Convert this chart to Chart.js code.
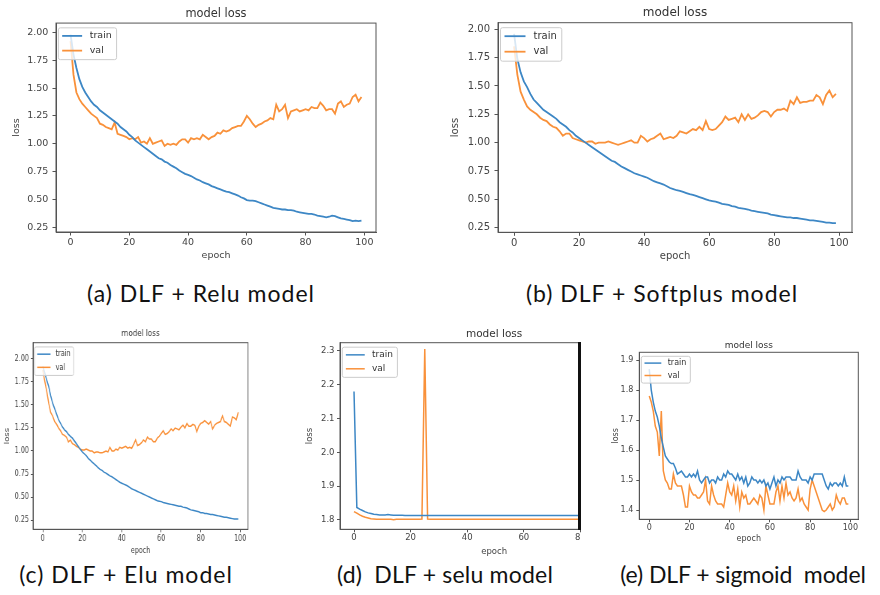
<!DOCTYPE html>
<html>
<head>
<meta charset="utf-8">
<script src="https://cdn.jsdelivr.net/npm/chart.js@4.4.1/dist/chart.umd.min.js"></script>
<style>
  body { margin: 0; background: #fff; width: 880px; height: 595px; position: relative; overflow: hidden; }
  .abs { position: absolute; }
  .cap { position: absolute; width: 400px; text-align: center; white-space: pre; font-family: Lato, "Open Sans", sans-serif; font-size: 23px; letter-spacing: 1px; line-height: 30px; color: #111; }
</style>
</head>
<body>
<canvas id="relu" class="abs" width="388" height="265" style="left:0;top:0"></canvas>
<canvas id="softplus" class="abs" width="424" height="266" style="left:440px;top:0"></canvas>
<div class="abs" style="left:0;top:325px;width:345px;height:233px;transform:scaleX(0.75);transform-origin:0 0">
  <canvas id="elu" width="345" height="233"></canvas>
</div>
<div class="abs" style="left:300px;top:325px;width:281px;height:233px;overflow:hidden">
  <canvas id="selu" width="360" height="233"></canvas>
</div>
<div class="abs" style="left:578px;top:342px;width:2.5px;height:188px;background:#111"></div>
<canvas id="sigmoid" class="abs" width="276" height="223" style="left:595px;top:325px"></canvas>

<div class="cap" style="left:1px;top:278px">(a) DLF + Relu model</div>
<div class="cap" style="left:462px;top:278px">(b) DLF + Softplus model</div>
<div class="cap" style="left:-74px;top:559px">(c) DLF + Elu model</div>
<div class="cap" style="left:245px;top:559px;letter-spacing:0.2px">(d)  DLF + selu model</div>
<div class="cap" style="left:543px;top:559px;letter-spacing:-0.1px">(e) DLF + sigmoid  model</div>

<script>
const epochs = [
  0, 1, 2, 3, 4, 5, 6, 7, 8, 9, 10, 11, 12, 13, 14, 15, 16, 17, 18, 19,
  20, 21, 22, 23, 24, 25, 26, 27, 28, 29, 30, 31, 32, 33, 34, 35, 36, 37, 38, 39,
  40, 41, 42, 43, 44, 45, 46, 47, 48, 49, 50, 51, 52, 53, 54, 55, 56, 57, 58, 59,
  60, 61, 62, 63, 64, 65, 66, 67, 68, 69, 70, 71, 72, 73, 74, 75, 76, 77, 78, 79,
  80, 81, 82, 83, 84, 85, 86, 87, 88, 89, 90, 91, 92, 93, 94, 95, 96, 97, 98, 99
];
const epochTicks = [0, 20, 40, 60, 80, 100];
const lossTicks = [0.25, 0.5, 0.75, 1.0, 1.25, 1.5, 1.75, 2.0];
const seluTicks = [1.8, 1.9, 2.0, 2.1, 2.2, 2.3];
const sigmoidTicks = [1.4, 1.5, 1.6, 1.7, 1.8, 1.9];

// (a) relu
const reluTrain = [
  1.98, 1.80, 1.68, 1.58, 1.51, 1.46, 1.42, 1.38, 1.35, 1.33,
  1.30, 1.28, 1.26, 1.24, 1.22, 1.20, 1.18, 1.15, 1.13, 1.11,
  1.08, 1.06, 1.03, 1.01, 0.99, 0.97, 0.95, 0.93, 0.91, 0.89,
  0.87, 0.86, 0.84, 0.83, 0.81, 0.795, 0.78, 0.76, 0.745, 0.73,
  0.72, 0.71, 0.695, 0.68, 0.67, 0.655, 0.645, 0.635, 0.62, 0.61,
  0.60, 0.59, 0.58, 0.57, 0.565, 0.555, 0.545, 0.535, 0.52, 0.51,
  0.495, 0.49, 0.49, 0.485, 0.475, 0.465, 0.455, 0.445, 0.435, 0.425,
  0.42, 0.415, 0.41, 0.41, 0.405, 0.405, 0.40, 0.39, 0.385, 0.38,
  0.375, 0.37, 0.37, 0.365, 0.355, 0.35, 0.345, 0.34, 0.345, 0.355,
  0.35, 0.34, 0.33, 0.325, 0.32, 0.315, 0.305, 0.31, 0.305, 0.31
];
const reluVal = [
  1.92, 1.62, 1.46, 1.40, 1.36, 1.33, 1.30, 1.27, 1.25, 1.23,
  1.18, 1.17, 1.15, 1.14, 1.13, 1.19, 1.09, 1.08, 1.07, 1.06,
  1.04, 1.05, 1.04, 1.06, 1.01, 1.02, 1.00, 1.05, 1.00, 1.01,
  1.02, 1.03, 0.98, 1.00, 0.99, 1.00, 0.99, 1.02, 1.04, 1.04,
  1.01, 1.05, 1.04, 1.05, 1.04, 1.08, 1.06, 1.04, 1.06, 1.07,
  1.10, 1.09, 1.12, 1.11, 1.12, 1.14, 1.15, 1.16, 1.16, 1.20,
  1.25, 1.22, 1.18, 1.15, 1.17, 1.18, 1.20, 1.21, 1.23, 1.22,
  1.35, 1.29, 1.31, 1.35, 1.23, 1.29, 1.30, 1.31, 1.29, 1.30,
  1.31, 1.30, 1.33, 1.32, 1.32, 1.37, 1.34, 1.30, 1.31, 1.31,
  1.27, 1.36, 1.38, 1.33, 1.35, 1.36, 1.42, 1.44, 1.38, 1.42
];

// (b) softplus
const softplusTrain = [
  1.96, 1.74, 1.62, 1.54, 1.49, 1.43, 1.38, 1.35, 1.32, 1.29,
  1.27, 1.25, 1.23, 1.21, 1.18, 1.16, 1.14, 1.11, 1.09, 1.06,
  1.04, 1.02, 1.00, 0.98, 0.96, 0.94, 0.92, 0.90, 0.88, 0.86,
  0.84, 0.83, 0.81, 0.79, 0.775, 0.76, 0.745, 0.73, 0.72, 0.71,
  0.70, 0.69, 0.675, 0.66, 0.65, 0.64, 0.63, 0.615, 0.60, 0.59,
  0.58, 0.575, 0.565, 0.555, 0.545, 0.54, 0.53, 0.52, 0.51, 0.50,
  0.49, 0.485, 0.48, 0.47, 0.46, 0.456, 0.45, 0.44, 0.435, 0.425,
  0.42, 0.415, 0.41, 0.40, 0.395, 0.39, 0.385, 0.38, 0.375, 0.365,
  0.36, 0.355, 0.35, 0.345, 0.34, 0.34, 0.335, 0.335, 0.33, 0.325,
  0.32, 0.315, 0.315, 0.31, 0.305, 0.30, 0.295, 0.295, 0.29, 0.29
];
const softplusVal = [
  1.85, 1.60, 1.45, 1.38, 1.32, 1.29, 1.27, 1.25, 1.22, 1.20,
  1.19, 1.16, 1.14, 1.13, 1.10, 1.06, 1.08, 1.08, 1.04, 1.03,
  1.02, 1.01, 1.00, 1.01, 1.01, 0.99, 1.00, 1.00, 1.00, 1.01,
  1.00, 0.99, 0.98, 0.99, 1.00, 1.01, 1.02, 1.00, 1.00, 1.06,
  1.04, 1.01, 1.03, 1.04, 1.06, 1.08, 1.03, 1.04, 1.05, 1.04,
  1.06, 1.10, 1.09, 1.08, 1.10, 1.12, 1.11, 1.14, 1.11, 1.19,
  1.12, 1.11, 1.12, 1.15, 1.18, 1.23, 1.20, 1.21, 1.22, 1.18,
  1.25, 1.20, 1.25, 1.21, 1.22, 1.24, 1.27, 1.28, 1.27, 1.23,
  1.27, 1.29, 1.29, 1.30, 1.28, 1.37, 1.34, 1.40, 1.35, 1.36,
  1.36, 1.37, 1.37, 1.42, 1.40, 1.34, 1.42, 1.46, 1.40, 1.43
];

// (c) elu
const eluTrain = [
  1.92, 1.85, 1.77, 1.70, 1.60, 1.52, 1.46, 1.40, 1.34, 1.30,
  1.26, 1.23, 1.21, 1.18, 1.16, 1.14, 1.11, 1.08, 1.05, 1.02,
  0.99, 0.97, 0.95, 0.92, 0.90, 0.88, 0.86, 0.84, 0.82, 0.80,
  0.79, 0.77, 0.76, 0.745, 0.73, 0.72, 0.705, 0.69, 0.675, 0.66,
  0.65, 0.64, 0.63, 0.62, 0.605, 0.59, 0.58, 0.57, 0.56, 0.55,
  0.54, 0.53, 0.52, 0.51, 0.50, 0.49, 0.48, 0.47, 0.46, 0.455,
  0.45, 0.44, 0.435, 0.43, 0.425, 0.42, 0.415, 0.41, 0.405, 0.40,
  0.40, 0.39, 0.385, 0.38, 0.37, 0.36, 0.355, 0.35, 0.345, 0.34,
  0.33, 0.33, 0.32, 0.32, 0.315, 0.31, 0.31, 0.305, 0.30, 0.295,
  0.29, 0.285, 0.28, 0.28, 0.275, 0.27, 0.265, 0.26, 0.26, 0.26
];
const eluVal = [
  1.88, 1.76, 1.65, 1.52, 1.42, 1.38, 1.32, 1.29, 1.25, 1.22,
  1.18, 1.17, 1.15, 1.10, 1.12, 1.08, 1.07, 1.05, 1.04, 1.02,
  1.01, 1.01, 1.02, 1.01, 1.00, 1.00, 0.98, 0.99, 0.99, 0.98,
  0.98, 0.99, 1.00, 0.99, 1.04, 1.00, 1.00, 1.02, 1.01, 1.04,
  1.03, 1.04, 1.05, 1.03, 1.04, 1.03, 1.07, 1.12, 1.06, 1.07,
  1.09, 1.12, 1.10, 1.15, 1.13, 1.13, 1.10, 1.10, 1.14, 1.16,
  1.19, 1.22, 1.18, 1.19, 1.21, 1.24, 1.22, 1.25, 1.24, 1.23,
  1.26, 1.28, 1.25, 1.30, 1.27, 1.27, 1.29, 1.28, 1.21, 1.27,
  1.30, 1.31, 1.33, 1.31, 1.29, 1.32, 1.24, 1.28, 1.30, 1.31,
  1.32, 1.38, 1.32, 1.31, 1.29, 1.27, 1.37, 1.36, 1.34, 1.42
];

// (d) selu
const seluTrain = [
  2.18, 1.837, 1.832, 1.828, 1.824, 1.821, 1.819, 1.817, 1.816, 1.815,
  1.815, 1.815, 1.816, 1.815, 1.814, 1.814, 1.814, 1.814, 1.813, 1.813,
  1.813, 1.813, 1.813, 1.813, 1.813, 1.813, 1.813, 1.813, 1.813, 1.813,
  1.813, 1.813, 1.813, 1.813, 1.813, 1.813, 1.813, 1.813, 1.813, 1.813,
  1.813, 1.813, 1.813, 1.813, 1.813, 1.813, 1.813, 1.813, 1.813, 1.813,
  1.813, 1.813, 1.813, 1.813, 1.813, 1.813, 1.813, 1.813, 1.813, 1.813,
  1.813, 1.813, 1.813, 1.813, 1.813, 1.813, 1.813, 1.813, 1.813, 1.813,
  1.813, 1.813, 1.813, 1.813, 1.813, 1.813, 1.813, 1.813, 1.813, 1.813,
  1.813, 1.813, 1.813, 1.813, 1.813, 1.813, 1.813, 1.813, 1.813, 1.813,
  1.813, 1.813, 1.813, 1.813, 1.813, 1.813, 1.813, 1.813, 1.813, 1.813
];
const seluVal = [
  1.825, 1.820, 1.815, 1.811, 1.808, 1.806, 1.804, 1.803, 1.802, 1.802,
  1.802, 1.802, 1.802, 1.802, 1.801, 1.802, 1.802, 1.802, 1.802, 1.802,
  1.802, 1.802, 1.802, 1.802, 1.803, 2.305, 1.803, 1.802, 1.802, 1.802,
  1.802, 1.802, 1.802, 1.802, 1.802, 1.802, 1.802, 1.802, 1.802, 1.802,
  1.802, 1.802, 1.802, 1.802, 1.802, 1.802, 1.802, 1.802, 1.802, 1.802,
  1.802, 1.802, 1.802, 1.802, 1.802, 1.802, 1.802, 1.802, 1.802, 1.802,
  1.802, 1.802, 1.802, 1.802, 1.802, 1.802, 1.802, 1.802, 1.802, 1.802,
  1.802, 1.802, 1.802, 1.802, 1.802, 1.802, 1.802, 1.802, 1.802, 1.802,
  1.802, 1.802, 1.802, 1.802, 1.802, 1.802, 1.802, 1.802, 1.802, 1.802,
  1.802, 1.802, 1.802, 1.802, 1.802, 1.802, 1.802, 1.802, 1.802, 1.802
];

// (e) sigmoid
const sigmoidTrain = [
  1.87, 1.80, 1.76, 1.73, 1.71, 1.68, 1.64, 1.61, 1.58, 1.57,
  1.56, 1.555, 1.555, 1.54, 1.52, 1.525, 1.53, 1.52, 1.51, 1.51,
  1.52, 1.51, 1.52, 1.51, 1.53, 1.50, 1.49, 1.50, 1.51, 1.51,
  1.49, 1.50, 1.50, 1.49, 1.51, 1.50, 1.50, 1.52, 1.51, 1.53,
  1.52, 1.52, 1.51, 1.50, 1.52, 1.50, 1.51, 1.49, 1.51, 1.48,
  1.49, 1.51, 1.50, 1.50, 1.49, 1.50, 1.49, 1.50, 1.48, 1.49,
  1.47, 1.49, 1.51, 1.48, 1.50, 1.49, 1.51, 1.50, 1.51, 1.51,
  1.51, 1.50, 1.50, 1.50, 1.53, 1.51, 1.50, 1.50, 1.50, 1.49,
  1.51, 1.50, 1.52, 1.52, 1.52, 1.52, 1.52, 1.50, 1.48, 1.47,
  1.49, 1.48, 1.49, 1.49, 1.48, 1.49, 1.48, 1.51, 1.48, 1.48
];
const sigmoidVal = [
  1.78, 1.76, 1.73, 1.68, 1.66, 1.58, 1.73, 1.53, 1.50, 1.49,
  1.47, 1.47, 1.52, 1.49, 1.48, 1.48, 1.48, 1.45, 1.41, 1.41,
  1.48, 1.46, 1.45, 1.45, 1.44, 1.44, 1.45, 1.46, 1.50, 1.43,
  1.42, 1.48, 1.45, 1.43, 1.42, 1.42, 1.42, 1.41, 1.45, 1.49,
  1.46, 1.45, 1.48, 1.43, 1.47, 1.41, 1.46, 1.44, 1.45, 1.42,
  1.42, 1.43, 1.44, 1.43, 1.42, 1.45, 1.44, 1.40, 1.48, 1.45,
  1.42, 1.42, 1.42, 1.46, 1.48, 1.43, 1.48, 1.44, 1.49, 1.45,
  1.46, 1.44, 1.43, 1.44, 1.47, 1.43, 1.44, 1.42, 1.41, 1.40,
  1.47, 1.50, 1.48, 1.46, 1.44, 1.42, 1.40, 1.395, 1.40, 1.41,
  1.42, 1.40, 1.41, 1.45, 1.43, 1.42, 1.44, 1.44, 1.42, 1.42
];

const blue = '#3d87c5';
const orange = '#f9913a';

Chart.defaults.font.family = '"DejaVu Sans", sans-serif';
Chart.defaults.color = '#444';
Chart.defaults.animation = false;

// matplotlib style box around the axes
const framePlugin = {
  id: 'frame',
  afterDatasetsDraw(chart) {
    const { ctx, chartArea: a } = chart;
    ctx.save();
    ctx.strokeStyle = '#555';
    ctx.lineWidth = 1;
    ctx.strokeRect(a.left, a.top, a.right - a.left, a.bottom - a.top);
    ctx.restore();
  }
};

// legend box in the upper left of the plot area
const boxLegend = {
  id: 'boxLegend',
  afterDraw(chart, args, opts) {
    const f = opts.size;
    const { ctx, chartArea: a } = chart;
    const sets = chart.data.datasets;
    ctx.save();
    ctx.font = f + 'px "DejaVu Sans"';
    const tw = Math.max(...sets.map(d => ctx.measureText(d.label).width));
    const x0 = a.left + 0.25 * f, y0 = a.top + 0.5 * f;
    const w = 0.4 * f + 2.1 * f + 0.8 * f + tw + 0.5 * f;
    const h = 0.85 * f + 1.55 * f * (sets.length - 1) + 0.95 * f;
    ctx.beginPath();
    ctx.roundRect(x0, y0, w, h, 2);
    ctx.fillStyle = 'rgba(255,255,255,0.8)';
    ctx.fill();
    ctx.strokeStyle = '#ccc';
    ctx.lineWidth = 1;
    ctx.stroke();
    sets.forEach((d, i) => {
      const y = y0 + 0.85 * f + i * 1.55 * f;
      ctx.beginPath();
      ctx.moveTo(x0 + 0.4 * f, y);
      ctx.lineTo(x0 + 2.5 * f, y);
      ctx.strokeStyle = d.borderColor;
      ctx.lineWidth = d.borderWidth;
      ctx.stroke();
      ctx.fillStyle = '#333';
      ctx.textBaseline = 'middle';
      ctx.fillText(d.label, x0 + 3.3 * f, y);
    });
    ctx.restore();
  }
};

function lossChart(id, train, val, o) {
  return new Chart(document.getElementById(id), {
    type: 'line',
    data: {
      labels: epochs,
      datasets: [
        { label: 'train', data: train, borderColor: blue, borderWidth: o.lw, pointRadius: 0, tension: 0 },
        { label: 'val', data: val, borderColor: orange, borderWidth: o.lw, pointRadius: 0, tension: 0 }
      ]
    },
    options: {
      responsive: false,
      layout: { padding: { left: 0, top: 0, bottom: 0, right: o.padR } },
      plugins: {
        legend: { display: false },
        tooltip: { enabled: false },
        title: {
          display: true, text: 'model loss', fullSize: false, color: '#333',
          font: { size: o.ts, weight: 'normal' },
          padding: { top: o.tt, bottom: o.tb }
        },
        boxLegend: { size: o.leg }
      },
      scales: {
        x: {
          type: 'linear', min: -4.95, max: 103.95,
          afterBuildTicks: s => { s.ticks = epochTicks.map(v => ({ value: v })); },
          afterFit: s => { s.height = o.xh; },
          grid: { drawOnChartArea: false, drawTicks: true, tickLength: o.tl, color: '#555' },
          border: { display: true, color: '#555' },
          ticks: { font: { size: o.tick }, padding: o.xpad, maxRotation: 0, autoSkip: false, callback: v => String(v) },
          title: { display: true, text: 'epoch', font: { size: o.lab }, padding: { top: 0, bottom: o.xtb } }
        },
        y: {
          min: o.ymin, max: o.ymax,
          afterBuildTicks: s => { s.ticks = o.yt.map(v => ({ value: v })); },
          afterFit: s => { s.width = o.yw; },
          grid: { drawOnChartArea: false, drawTicks: true, tickLength: o.tl, color: '#555' },
          border: { display: true, color: '#555' },
          ticks: { font: { size: o.tick }, padding: o.ypad, autoSkip: false, callback: v => v.toFixed(o.dec) },
          title: { display: true, text: 'loss', font: { size: o.lab }, padding: { top: o.ytp, bottom: 0 } }
        }
      }
    },
    plugins: [framePlugin, boxLegend]
  });
}

lossChart('relu', reluTrain, reluVal, {
  lw: 1.8, padR: 12, ts: 11.4, tt: 7.2, tb: 2.2, leg: 9.5,
  xh: 33, tl: 3.5, tick: 9.5, xpad: 1.5, lab: 9.5, xtb: 3.3,
  yw: 56, ypad: 4.2, ytp: 11.3, ymin: 0.208, ymax: 2.083, yt: lossTicks, dec: 2
});
lossChart('softplus', softplusTrain, softplusVal, {
  lw: 1.8, padR: 12, ts: 12, tt: 6.1, tb: 2.2, leg: 10,
  xh: 33.7, tl: 3.5, tick: 10, xpad: 1.5, lab: 10, xtb: 3.3,
  yw: 58, ypad: 4.5, ytp: 9, ymin: 0.209, ymax: 2.058, yt: lossTicks, dec: 2
});
lossChart('elu', eluTrain, eluVal, {
  lw: 1.5, padR: 14.3, ts: 9.5, tt: 3.3, tb: 3.0, leg: 8.5,
  xh: 28.7, tl: 3, tick: 8.5, xpad: 1.5, lab: 8.5, xtb: 2.0,
  yw: 44, ypad: 2.5, ytp: 4.6, ymin: 0.149, ymax: 2.177, yt: lossTicks, dec: 2
});
lossChart('selu', seluTrain, seluVal, {
  lw: 1.5, padR: 11.8, ts: 10.5, tt: 2.7, tb: 2.4, leg: 9,
  xh: 28.7, tl: 3, tick: 8.5, xpad: 0.6, lab: 8.5, xtb: 0.9,
  yw: 40, ypad: 2.5, ytp: 4.9, ymin: 1.7725, ymax: 2.324, yt: seluTicks, dec: 1
});
lossChart('sigmoid', sigmoidTrain, sigmoidVal, {
  lw: 1.5, padR: 12.7, ts: 9, tt: 15.6, tb: 0.9, leg: 8,
  xh: 28.7, tl: 3, tick: 8, xpad: 1.2, lab: 8, xtb: 3.9,
  yw: 44.3, ypad: 3, ytp: 16.2, ymin: 1.369, ymax: 1.926, yt: sigmoidTicks, dec: 1
});
</script>
</body>
</html>
